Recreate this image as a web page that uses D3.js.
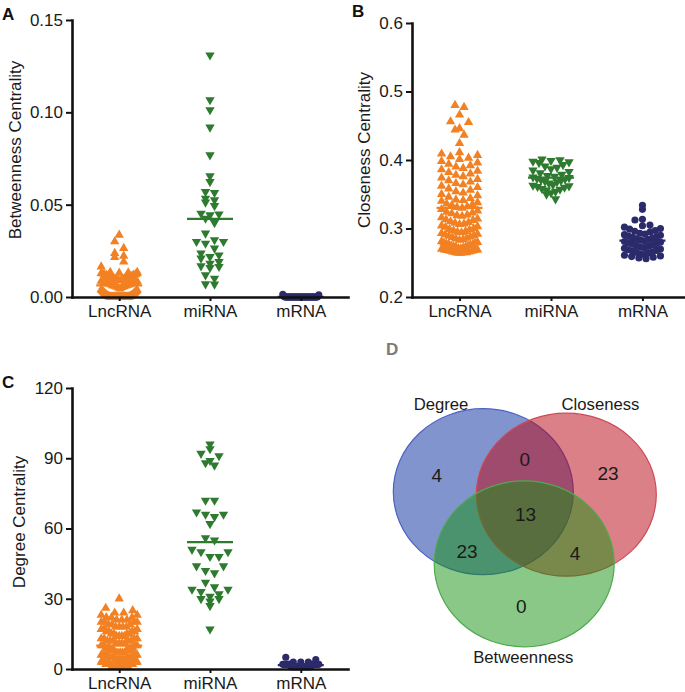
<!DOCTYPE html>
<html><head><meta charset="utf-8">
<script src="https://cdn.jsdelivr.net/npm/d3@7"></script>
<style>
body{margin:0;background:#fff;}
text{font-family:"Liberation Sans",Arial,Helvetica,sans-serif;}
</style></head><body>
<svg id="chart" width="685" height="692"></svg>
<script>
const categories = ["LncRNA","miRNA","mRNA"];

// Panel A: betweenness centrality
const betweennessLncRNA = [0.0336,0.0300,0.0264,0.0237,0.0222,0.0215,0.0191,0.0164,
 0.0135,0.0134,0.0132,0.0130,0.0128,0.0127,0.0125,0.0122,0.0121,0.0120,0.0118,0.0116,0.0115,0.0112,0.0110,
 0.0109,0.0107,0.0104,0.0103,0.0101,0.0098,0.0097,0.0095,0.0092,0.0091,0.0089,0.0086,0.0085,0.0083,0.0080,
 0.0079,0.0077,0.0074,0.0073,0.0071,0.0068,0.0067,0.0065,0.0062,0.0061,0.0059,0.0056,0.0055,0.0053,0.0050,0.0045,
 0.0040,0.0038,0.0036,0.0034,0.0032,0.0030,0.0028,0.0026,0.0024,0.0022,0.0020,0.0018,0.0016,0.0014,0.0012,
 0.0010,0.0009,0.0008,0.0007,0.0006,0.0005,0.0004,0.0003,0.0002,0.0001,
 0,0,0,0,0,0,0,0,0,0,0,0,0,0,0,0,0,0,0,0,0,0,0,0,0,0,0];
const betweennessMiRNA = [0.131,0.1067,0.1013,0.0919,0.0769,0.0655,0.0624,0.0570,0.0565,0.0534,0.0525,0.0513,
 0.0494,0.0453,0.0449,0.0444,0.0426,0.0402,0.0345,0.0309,0.0300,0.0300,0.0290,0.0264,0.0237,0.0227,0.0218,
 0.0210,0.0191,0.0182,0.0168,0.0164,0.0159,0.0119,0.0101,0.0070,0.0069];
const betweennessMRNA = [0.0014,0.0012,0.0007,0.0005,0.0003,
 0,0,0,0,0,0,0,0,0,0,0,0,0,0,0,0,0,0,0,0,0,0,0,0,0,0,0,0,0,0,0,0,0,0,0,0,0,0,0,0,0,0,0,0,0];

// Panel B: closeness centrality
const closenessLncRNA = [0.480,0.477,0.466,0.456,0.455,0.446,0.444,0.4365,0.4244,
 0.411,0.409,0.407,0.405,0.403,0.401,
 0.398,0.396,0.394,0.392,0.390,0.388,
 0.386,0.384,0.382,0.380,0.378,0.376,
 0.374,0.372,0.370,0.368,0.366,0.364,
 0.362,0.360,0.358,0.356,0.354,0.352,
 0.350,0.348,0.346,0.344,0.342,0.340,0.341,
 0.338,0.336,0.334,0.332,0.330,0.335,0.331,
 0.328,0.326,0.324,0.322,0.320,0.318,0.323,0.319,
 0.316,0.314,0.312,0.310,0.308,0.306,0.313,0.309,0.307,
 0.304,0.302,0.300,0.298,0.296,0.294,0.303,0.299,0.297,0.295,
 0.293,0.291,0.289,0.287,0.285,0.283,0.292,0.290,0.288,0.286,0.284,
 0.281,0.279,0.277,0.275,0.273,0.271,0.280,0.278,0.276,0.274,0.272,0.270,
 0.269,0.268,0.267,0.266,0.265,0.264,0.266,0.265,
 0.264,0.265,0.267,0.268,0.269,0.271,0.273,0.275,0.277,0.279];
const closenessMiRNA = [0.401,0.400,0.399,0.398,0.397,0.396,0.393,0.391,0.389,0.387,0.385,0.383,0.381,
 0.379,0.377,0.376,0.375,0.374,0.373,0.372,0.371,0.370,0.369,0.368,0.366,0.364,0.363,0.362,0.361,0.360,
 0.358,0.357,0.356,0.354,0.352,0.350,0.343];
const closenessMRNA = [0.334,0.328,0.3134,0.3124,
 0.305,0.304,0.302,0.300,0.299,0.297,0.296,0.295,0.293,0.292,0.291,0.290,0.289,0.288,0.287,0.286,0.285,0.284,
 0.283,0.282,0.281,0.280,0.279,0.278,0.277,0.276,0.275,0.274,0.273,0.272,0.271,0.270,0.269,0.268,0.267,0.266,
 0.265,0.264,0.263,0.262,0.261,0.260,0.259,0.258,0.257,0.256];

// Panel C: degree centrality
const degreeLncRNA = [30,26,25,24,24,23,23,
 22,22,21,21,20,20,19,19,18,18,17,17,16,16,16,15,15,14,14,14,13,13,13,12,12,12,11,11,11,10,10,10,
 9,9,9,8,8,8,7,7,7,7,6,6,6,6,6,5,5,5,5,5,4,4,4,4,4,3,3,3,3,3,3,2,2,2,2,2,2,2,
 1,1,1,1,1,1,1,1,1,1,1,1,1,
 22,21,20,19,18,17,16,15,14,13,12,11,10,9,8,7,6,5,4,3,2,1,20,18,15,12,9,6,3,2,1];
const degreeMiRNA = [96,94,92,91,89,88,87,72,72,67,66,66,65,62,56,55,51,50,50,48,48,44,44,42,41,37,35,
 34,34,33,32,31,30,30,29,27,17];
const degreeMRNA = [5,4,3,3,3,2,2,2,2,2,2,2,2,2,2,2,2,2,2,2,2,2,2,2,2,
 1,1,1,1,1,1,1,1,1,1,1,1,1,1,1,1,1,1,1,1,1,1,1,1,1];

const ticksA = [0,0.05,0.10,0.15], tickLabelsA = ["0.00","0.05","0.10","0.15"];
const ticksB = [0.2,0.3,0.4,0.5,0.6], tickLabelsB = ["0.2","0.3","0.4","0.5","0.6"];
const ticksC = [0,30,60,90,120], tickLabelsC = ["0","30","60","90","120"];

// Panel D: Venn
const vennSets = ["Degree","Closeness","Betweenness"];
const vennRegions = ["D","DC","C","DCB","DB","CB","B"];
const vennCounts = [4,0,23,13,23,4,0];

const svg = d3.select("#chart");
const colors = {LncRNA:"#f28123", miRNA:"#2e7b30", mRNA:"#2b2b6b"};
const FONT = 17;

function swarm(values, y, cx, binH, maxHalf, step) {
  const base = y.range()[0];
  const sorted = values.slice().sort((a,b)=>a-b);
  const bins = d3.groups(sorted, v => Math.floor((base - y(v) + 1e-6) / binH));
  const pts = [];
  bins.forEach(([k, vals]) => {
    const n = vals.length;
    const s = n > 1 ? Math.min(step, 2*maxHalf/(n-1)) : 0;
    const slots = d3.range(n).map(j => (j - (n-1)/2) * s);
    slots.sort((a,b)=> Math.abs(a)-Math.abs(b) || b - a);
    vals.forEach((v,i)=> pts.push({v, x: cx + slots[i], y: y(v)}));
  });
  return pts;
}

function drawPanel(cfg) {
  const g = svg.append("g");
  const y = d3.scaleLinear().domain(cfg.domain).range([cfg.yBot, cfg.yTop]);
  const x = d3.scalePoint().domain(categories).range([cfg.x0, cfg.x1]).padding(0.52);

  const tri = d3.symbol().type(d3.symbolTriangle).size(38);
  const circ = d3.symbol().type(d3.symbolCircle).size(40);

  categories.forEach(cat => {
    const vals = cfg.data[cat];
    const isCircle = cat === "mRNA";
    const pts = swarm(vals, y, x(cat), isCircle ? 7 : 8, 18, isCircle ? 7.5 : 9);
    g.append("g").selectAll("path").data(pts).join("path")
      .attr("d", isCircle ? circ() : tri())
      .attr("transform", d => `translate(${d.x},${d.y})` + (cat === "miRNA" ? " rotate(180)" : ""))
      .attr("fill", colors[cat]);
    const m = d3.mean(vals);
    g.append("line").attr("x1", x(cat)-23).attr("x2", x(cat)+23)
      .attr("y1", y(m)).attr("y2", y(m))
      .attr("stroke", colors[cat]).attr("stroke-width", 2.2);
  });

  const yAxis = d3.axisLeft(y).tickValues(cfg.ticks).tickFormat((d,i)=>cfg.tickLabels[i])
    .tickSize(6).tickSizeOuter(0).tickPadding(3);
  const ya = g.append("g").attr("transform", `translate(${cfg.x0},0)`).call(yAxis);
  const xAxis = d3.axisBottom(x).tickSize(4).tickSizeOuter(0).tickPadding(4);
  const xa = g.append("g").attr("transform", `translate(0,${cfg.yBot})`).call(xAxis);
  [ya, xa].forEach(a => {
    a.attr("font-size", FONT).attr("font-family", '"Liberation Sans",Arial,sans-serif');
    a.select(".domain").attr("stroke", "#111").attr("stroke-width", 2.6).attr("stroke-linecap","square");
    a.selectAll(".tick line").attr("stroke", "#111").attr("stroke-width", 2);
    a.selectAll(".tick text").attr("fill", "#1a1a1a");
  });

  g.append("text").attr("transform", `translate(${cfg.titleX},${cfg.titleY}) rotate(-90)`)
    .attr("text-anchor","middle").attr("dy","0.35em").attr("font-size", FONT).attr("fill","#1a1a1a")
    .text(cfg.title);
  g.append("text").attr("x", cfg.lx).attr("y", cfg.ly).attr("font-size", 17).attr("font-weight","bold")
    .attr("fill","#111").text(cfg.letter);
}

drawPanel({x0:72, x1:348, yTop:20, yBot:297, domain:[0,0.15], ticks:ticksA, tickLabels:tickLabelsA,
  title:"Betweenness Centrality", titleX:15, titleY:150, letter:"A", lx:2, ly:20,
  data:{LncRNA:betweennessLncRNA, miRNA:betweennessMiRNA, mRNA:betweennessMRNA}});
drawPanel({x0:412, x1:690, yTop:23, yBot:297, domain:[0.2,0.6], ticks:ticksB, tickLabels:tickLabelsB,
  title:"Closeness Centrality", titleX:364, titleY:150, letter:"B", lx:352, ly:17,
  data:{LncRNA:closenessLncRNA, miRNA:closenessMiRNA, mRNA:closenessMRNA}});
drawPanel({x0:72, x1:348, yTop:388, yBot:669, domain:[0,120], ticks:ticksC, tickLabels:tickLabelsC,
  title:"Degree Centrality", titleX:19, titleY:522, letter:"C", lx:2, ly:388,
  data:{LncRNA:degreeLncRNA, miRNA:degreeMiRNA, mRNA:degreeMRNA}});

// Panel D Venn
const vg = svg.append("g");
const ellipses = [
  {set:vennSets[0], cx:483.3, cy:491.7, rx:90, ry:83, fill:"#06299c", stroke:"#4a62c4"},
  {set:vennSets[1], cx:566.3, cy:494.7, rx:90, ry:81.5, fill:"#b9020f", stroke:"#cc4a55"},
  {set:vennSets[2], cx:524.2, cy:563.8, rx:90, ry:83, fill:"#13910f", stroke:"#50a850"}
];
vg.selectAll("ellipse").data(ellipses).join("ellipse")
  .attr("cx", d=>d.cx).attr("cy", d=>d.cy).attr("rx", d=>d.rx).attr("ry", d=>d.ry)
  .attr("fill", d=>d.fill).attr("fill-opacity", 0.5)
  .attr("stroke", d=>d.stroke).attr("stroke-width", 1.2);
const setLabelPos = [[441,410],[600.5,410],[523.3,663]];
vg.selectAll("text.set").data(vennSets).join("text").attr("class","set")
  .attr("x",(d,i)=>setLabelPos[i][0]).attr("y",(d,i)=>setLabelPos[i][1])
  .attr("text-anchor","middle").attr("font-size",16.7).attr("fill","#1a1a1a").text(d=>d);
const regionPos = {D:[436.7,481.5], DC:[524.7,466], C:[608,480], DCB:[525.5,520.5], DB:[467,558.3], CB:[575,560], B:[521.3,613.3]};
vg.selectAll("text.num").data(vennRegions).join("text").attr("class","num")
  .attr("x", d=>regionPos[d][0]).attr("y", d=>regionPos[d][1])
  .attr("text-anchor","middle").attr("font-size",19).attr("fill","#1a1a1a")
  .text((d,i)=>vennCounts[i]);
svg.append("text").attr("x",386).attr("y",355).attr("font-size",17).attr("font-weight","bold")
  .attr("fill","#7a7a7a").text("D");
</script>
</body></html>
